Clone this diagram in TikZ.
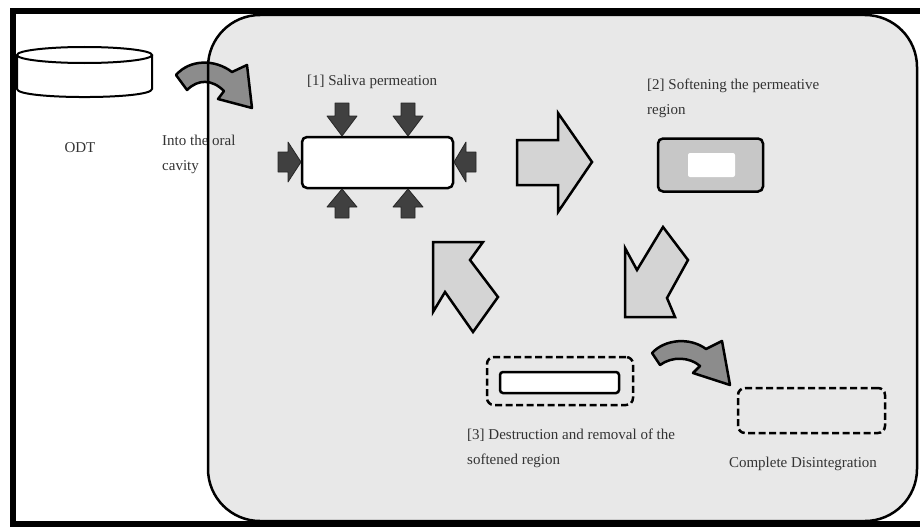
\documentclass[tikz,border=0pt]{standalone}
\usepackage{fontspec}
\setmainfont{Liberation Serif}
\begin{document}
\begin{tikzpicture}[x=1pt,y=-1pt,
  txt/.style={inner sep=0pt, text=black!80, font=\fontsize{15}{25}\selectfont},
  darr/.style={fill=black!75, draw=black!85, line width=0.8pt, line join=round},
  bigarr/.style={fill=black!17, draw=black, line width=2.5pt, line join=miter},
  curvarr/.style={fill=black!45, draw=black, line width=2.5pt, line join=round},
  boxline/.style={draw=black, line width=2.5pt},
  dashbox/.style={draw=black, line width=2.5pt, dash pattern=on 7pt off 3.5pt, rounded corners=7pt, inner sep=0pt}
]
\useasboundingbox (0,0) rectangle (920,527);
\fill[white] (0,0) rectangle (920,527);
% gray rounded region fill
\fill[black!9, rounded corners=52pt] (208,15) rectangle (917,521);
% ODT cylinder
\draw[fill=white, line width=2pt] (17,55) -- (17,89) .. controls (17,99.7) and (152,99.7) .. (152,89) -- (152,55);
\draw[fill=white, line width=2pt] (84.5,55) ellipse [x radius=67.5, y radius=8];
\node[txt, anchor=base] (odt) at (80,152) {ODT};
% curved arrow into oral cavity
\path[curvarr] (176,75) .. controls (190,59) and (215,59) .. (232,72) -- (247,65) -- (252,108) -- (218,99) -- (224,91) .. controls (212,79) and (198,79) .. (187,90) -- cycle;
\node[txt, anchor=north west, align=left] (into) at (162,135) {Into the oral\\cavity};
% region border
\draw[line width=2.5pt, rounded corners=52pt] (208,15) rectangle (917,521);
% outer frame bars
\fill[black] (10,8) rectangle (920,14);
\fill[black] (10,8) rectangle (16,527);
\fill[black] (10,521) rectangle (920,527);

% [1] saliva permeation
\node[txt, anchor=base] (l1) at (372,85) {[1] Saliva permeation};
\node[boxline, fill=white, rounded corners=5pt, minimum width=151pt, minimum height=51pt, inner sep=0pt] (b1) at (377.5,162.5) {};
\path[darr] (335,103) -- (349,103) -- (349,116) -- (357,116) -- (342,136) -- (327,116) -- (335,116) -- cycle;
\path[darr] (401,103) -- (415,103) -- (415,116) -- (423,116) -- (408,136) -- (393,116) -- (401,116) -- cycle;
\path[darr] (335,218) -- (349,218) -- (349,207) -- (357,207) -- (342,189) -- (327,207) -- (335,207) -- cycle;
\path[darr] (401,218) -- (415,218) -- (415,207) -- (423,207) -- (408,189) -- (393,207) -- (401,207) -- cycle;
\path[darr] (278,152) -- (288,152) -- (288,142) -- (301,162) -- (288,182) -- (288,172) -- (278,172) -- cycle;
\path[darr] (476,152) -- (466,152) -- (466,142) -- (454,162) -- (466,182) -- (466,172) -- (476,172) -- cycle;

% big arrow right
\path[bigarr] (517,140) -- (558,140) -- (558,113) -- (592,162) -- (558,212) -- (558,185) -- (517,185) -- cycle;

% [2] softening
\node[txt, anchor=north west, align=left] (l2) at (647,79) {[2] Softening the permeative\\region};
\node[boxline, fill=black!22, rounded corners=5pt, minimum width=105pt, minimum height=53pt, inner sep=0pt] (b2) at (710.5,165) {};
\node[fill=white, rounded corners=2pt, minimum width=47pt, minimum height=24pt, inner sep=0pt] (b2in) at (711.5,165) {};

% big arrow down-left
\path[bigarr] (663,227) -- (688,260) -- (667,298) -- (675,317) -- (625,317) -- (625,248) -- (637,270) -- cycle;
% big arrow up-left
\path[bigarr] (433,242) -- (483,242) -- (470,260) -- (498,297) -- (473,332) -- (445,292) -- (433,312) -- cycle;

% [3] destruction
\node[dashbox, minimum width=146pt, minimum height=48pt] (b3) at (560,381) {};
\node[boxline, fill=white, rounded corners=3pt, minimum width=119pt, minimum height=21pt, inner sep=0pt] (b3in) at (559.5,382.5) {};
\node[txt, anchor=north west, align=left] (l3) at (467,429) {[3] Destruction and removal of the\\softened region};

% curved arrow to complete disintegration
\path[curvarr] (652,353) .. controls (665,339) and (690,337) .. (706,349) -- (722,341) -- (730,385) -- (693,373) -- (700,366) .. controls (690,357) and (672,356) .. (660,365) -- cycle;

% complete disintegration
\node[dashbox, minimum width=147pt, minimum height=45pt] (b4) at (811.5,410.5) {};
\node[txt, anchor=base] (l4) at (803,467) {Complete Disintegration};
\end{tikzpicture}
\end{document}
